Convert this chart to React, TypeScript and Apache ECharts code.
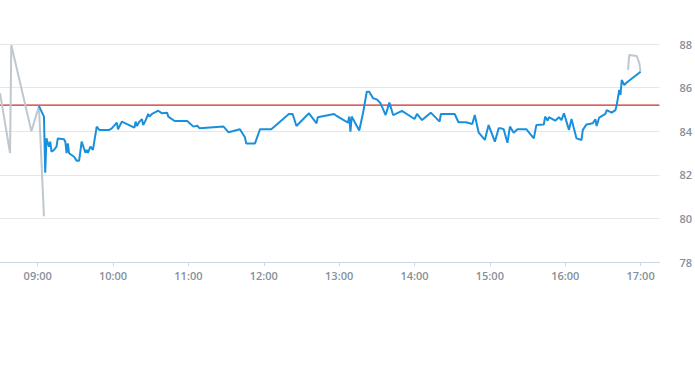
import React, { useEffect, useRef } from "react";
import * as echarts from "echarts";

const DAY = "2024-01-02";

const preTimes = ["08:30", "08:38", "08:39", "08:55", "09:01", "09:05"];
const preValues = [85.75, 83.0, 87.95, 84.0, 85.15, 80.1];

const mainTimes = [
  "09:01", "09:05", "09:06", "09:07", "09:09", "09:10", "09:11", "09:13", "09:15", "09:16",
  "09:21", "09:22", "09:23", "09:24", "09:25", "09:27", "09:29", "09:31", "09:33", "09:35",
  "09:38", "09:39", "09:40", "09:42", "09:44", "09:47", "09:49", "09:57", "09:59", "10:03",
  "10:04", "10:07", "10:17", "10:18", "10:19", "10:21", "10:23", "10:24", "10:26", "10:28",
  "10:29", "10:31", "10:33", "10:36", "10:39", "10:43", "10:44", "10:49", "10:59", "11:04",
  "11:07", "11:09", "11:28", "11:32", "11:41", "11:45", "11:46", "11:53", "11:57", "12:06",
  "12:20", "12:23", "12:26", "12:36", "12:42", "12:43", "12:56", "12:58", "13:07", "13:08",
  "13:09", "13:10", "13:16", "13:19", "13:22", "13:24", "13:27", "13:30", "13:33", "13:37",
  "13:40", "13:43", "13:50", "14:00", "14:02", "14:06", "14:13", "14:20", "14:21", "14:32",
  "14:35", "14:41", "14:46", "14:48", "14:51", "14:56", "14:59", "15:04", "15:07", "15:09",
  "15:11", "15:14", "15:16", "15:19", "15:22", "15:29", "15:35", "15:37", "15:43", "15:44",
  "15:46", "15:47", "15:52", "15:55", "15:57", "15:59", "16:03", "16:05", "16:09", "16:13",
  "16:14", "16:17", "16:22", "16:24", "16:25", "16:27", "16:32", "16:33", "16:37", "16:40",
  "16:41", "16:43", "16:44", "16:45", "16:47", "16:49", "17:00",
];
const mainValues = [
  85.16, 84.67, 82.1, 83.67, 83.29, 83.52, 83.06, 83.14, 83.29, 83.67,
  83.63, 83.52, 82.99, 83.44, 82.99, 82.91, 82.83, 82.65, 82.65, 83.52,
  83.01, 83.14, 83.01, 83.29, 83.14, 84.21, 84.06, 84.06, 84.13, 84.39,
  84.09, 84.44, 84.16, 84.44, 84.24, 84.44, 84.55, 84.28, 84.51, 84.79,
  84.67, 84.79, 84.85, 84.94, 84.82, 84.85, 84.67, 84.47, 84.47, 84.21,
  84.25, 84.13, 84.21, 83.95, 84.09, 83.72, 83.44, 83.44, 84.09, 84.09,
  84.79, 84.79, 84.24, 84.82, 84.36, 84.64, 84.79, 84.7, 84.39, 84.67,
  83.98, 84.67, 84.03, 84.82, 85.81, 85.81, 85.51, 85.46, 85.28, 84.74,
  85.31, 84.74, 84.93, 84.56, 84.79, 84.51, 84.85, 84.44, 84.79, 84.79,
  84.41, 84.41, 84.33, 84.74, 83.95, 83.6, 84.28, 83.52, 84.13, 84.13,
  84.09, 83.47, 84.21, 83.93, 84.09, 84.09, 83.67, 84.28, 84.31, 84.67,
  84.48, 84.64, 84.48, 84.64, 84.51, 84.82, 84.06, 84.56, 83.67, 83.6,
  84.06, 84.31, 84.36, 84.55, 84.24, 84.62, 84.79, 84.97, 84.85, 84.97,
  85.2, 85.89, 85.66, 86.35, 86.12, 86.23, 86.73,
];

const postTimes = ["16:50", "16:51", "16:57", "16:59", "17:00"];
const postValues = [86.81, 87.5, 87.45, 87.11, 86.73];

const previousClose = 85.2;

const axisStart = "08:30";
const axisEnd = "17:15";
const yMin = 78;
const yMax = 88;
const yStep = 2;

const toPairs = (times: string[], values: number[]) =>
  times.map((t, i) => [`${DAY} ${t}`, values[i]]);

export default function App() {
  const ref = useRef<HTMLDivElement>(null);
  useEffect(() => {
    if (!ref.current) return;
    const chart = echarts.init(ref.current, undefined, { renderer: "svg" });
    const labelStyle = {
      color: "#86909a",
      fontFamily: "Open Sans",
      fontSize: 11,
      fontWeight: 600,
    };
    chart.setOption({
      animation: false,
      grid: { left: 0, right: 30, top: 44, bottom: 108, containLabel: false },
      xAxis: {
        type: "time",
        min: `${DAY} ${axisStart}`,
        max: `${DAY} ${axisEnd}`,
        minInterval: 3600 * 1000,
        maxInterval: 3600 * 1000,
        axisLine: { lineStyle: { color: "#ccd6eb", width: 1 } },
        axisTick: { show: true, length: 4, lineStyle: { color: "#ccd6eb" } },
        splitLine: { show: false },
        axisLabel: {
          ...labelStyle,
          margin: 8,
          formatter: "{HH}:{mm}",
          hideOverlap: false,
        },
      },
      yAxis: {
        type: "value",
        position: "right",
        min: yMin,
        max: yMax,
        interval: yStep,
        axisLine: { show: false },
        axisTick: { show: false },
        splitLine: { lineStyle: { color: "#e6e6e6", width: 1 } },
        axisLabel: { ...labelStyle, margin: 20 },
      },
      series: [
        {
          type: "line",
          data: toPairs([axisStart, axisEnd], [previousClose, previousClose]),
          showSymbol: false,
          silent: true,
          lineStyle: { color: "#d42a2a", width: 1.2 },
          itemStyle: { color: "#d42a2a" },
          z: 1,
        },
        {
          type: "line",
          data: toPairs(preTimes, preValues),
          showSymbol: false,
          lineStyle: { color: "#bfc8cf", width: 2 },
          itemStyle: { color: "#bfc8cf" },
          z: 2,
        },
        {
          type: "line",
          data: toPairs(postTimes, postValues),
          showSymbol: false,
          lineStyle: { color: "#bfc8cf", width: 2 },
          itemStyle: { color: "#bfc8cf" },
          z: 2,
        },
        {
          type: "line",
          data: toPairs(mainTimes, mainValues),
          showSymbol: false,
          lineStyle: { color: "#1a90dd", width: 2 },
          itemStyle: { color: "#1a90dd" },
          z: 3,
        },
      ],
    });
    return () => chart.dispose();
  }, []);
  return (
    <div
      ref={ref}
      style={{ position: "fixed", left: 0, top: 0, width: 695, height: 370, background: "#fff" }}
    />
  );
}
